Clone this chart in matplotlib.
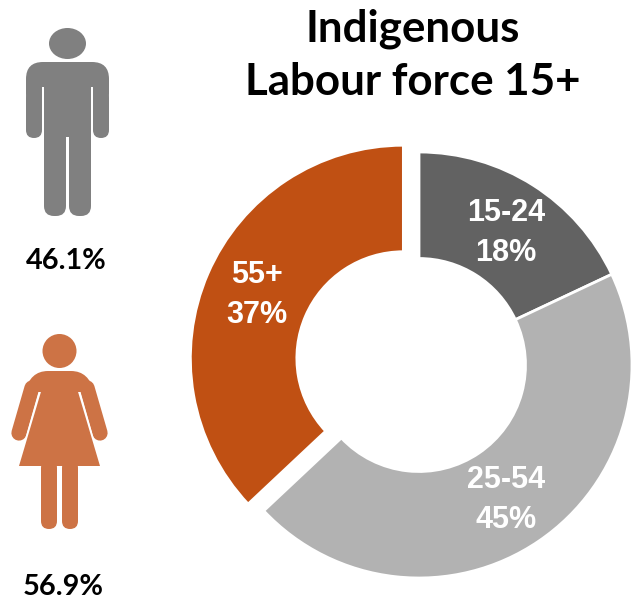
import matplotlib
matplotlib.use('Agg')
import matplotlib.pyplot as plt
from matplotlib.patches import Circle, Ellipse, FancyBboxPatch, Polygon, PathPatch
from matplotlib.path import Path

labels = ['15-24', '25-54', '55+']
shares = [18, 45, 37]
colors = ['#626262', '#b2b2b2', '#c05013']
explode = [0, 0, 0.08]

male_pct = '46.1%'
female_pct = '56.9%'
title_lines = 'Indigenous\nLabour force 15+'

plt.rcParams['font.family'] = ['Liberation Sans', 'DejaVu Sans']
head_font = ['Lato', 'DejaVu Sans']

W, H = 631, 603
fig = plt.figure(figsize=(W / 100, H / 100), dpi=100)

# donut axes, placed in figure pixels
cx, cy, R = 419, 365, 213
span = 1.1
pie = fig.add_axes([(cx - R * span) / W, 1 - (cy + R * span) / H, 2 * R * span / W, 2 * R * span / H])
pie.pie(shares, colors=colors, startangle=90, counterclock=False, explode=explode, radius=1.0,
        wedgeprops=dict(width=0.5, edgecolor='white', linewidth=2))
pie.set_xlim(-span, span)
pie.set_ylim(-span, span)

# overlay in pixel coordinates for text and icons
ax = fig.add_axes([0, 0, 1, 1], zorder=5)
ax.set_xlim(0, W)
ax.set_ylim(H, 0)
ax.axis('off')

for lab, sh, x, y in zip(labels, shares, [506, 506, 257], [233, 500, 295]):
    ax.text(x, y, f'{lab}\n{sh}%', color='white', fontsize=22, fontweight='bold',
            ha='center', va='center', linespacing=1.42)

ax.text(413, 55, title_lines, fontsize=31.6, fontweight='bold', ha='center', va='center',
        family=head_font, linespacing=1.38)


def rbox(x0, y0, x1, y1, r, color):
    ax.add_patch(FancyBboxPatch((x0, y0), x1 - x0, y1 - y0, boxstyle=f'round,pad=0,rounding_size={r}',
                                fc=color, ec='none'))


# man icon
grey = '#808080'
ax.add_patch(Ellipse((67.5, 43.5), 37, 31, fc=grey, ec='none'))
rbox(26, 62, 109, 110, 17, grey)
rbox(26, 90, 42, 138, 8, grey)
rbox(93, 90, 109, 138, 8, grey)
rbox(44, 80, 91, 150, 1, grey)
rbox(44, 130, 66, 216, 10, grey)
rbox(69, 130, 91, 216, 10, grey)
ax.add_patch(Polygon([[42, 87], [44, 87], [44, 139], [42, 139]], fc='white', ec='none'))
ax.add_patch(Polygon([[91, 87], [93, 87], [93, 139], [91, 139]], fc='white', ec='none'))
ax.add_patch(Polygon([[66, 137], [69, 137], [69, 150], [66, 150]], fc='white', ec='none'))

# woman icon: arms, then white gap, then dress and shoulders on top
orange = '#cd7345'
ax.add_patch(Circle((59.5, 351), 17, fc=orange, ec='none'))
ax.plot([32, 19], [388, 433], color=orange, lw=11, solid_capstyle='round', zorder=2)
ax.plot([87, 100], [388, 433], color=orange, lw=11, solid_capstyle='round', zorder=2)
ax.plot([41.5, 23.5], [387, 450], color='white', lw=2.2, zorder=3)
ax.plot([77.5, 95.5], [387, 450], color='white', lw=2.2, zorder=3)
ax.add_patch(Polygon([[43, 385], [76, 385], [100, 466], [19, 466]], fc=orange, ec='none', zorder=4))
shoulders = Path([(25, 392), (30, 371), (48, 371), (71, 371), (89, 371), (94, 392), (25, 392)],
                 [Path.MOVETO, Path.CURVE3, Path.CURVE3, Path.LINETO, Path.CURVE3, Path.CURVE3, Path.CLOSEPOLY])
ax.add_patch(PathPatch(shoulders, fc=orange, ec='none', zorder=4))
rbox(41, 460, 57, 529, 8, orange)
rbox(62, 460, 78, 529, 8, orange)

ax.text(66, 261, male_pct, fontsize=20.8, fontweight='bold', ha='center', va='center', family=head_font)
ax.text(63, 587, female_pct, fontsize=20.8, fontweight='bold', ha='center', va='center', family=head_font)

plt.savefig('out.png', dpi=100)
plt.close()
